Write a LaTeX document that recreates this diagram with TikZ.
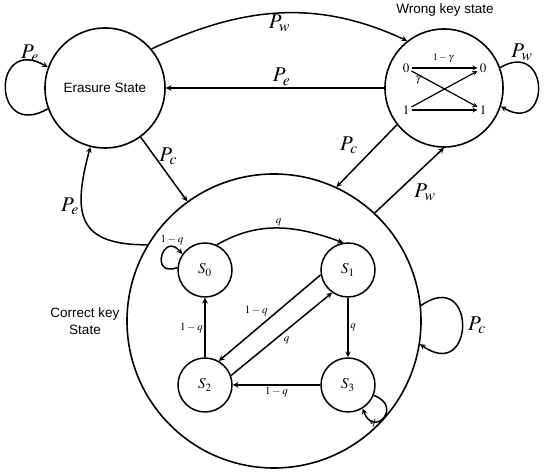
\documentclass[tikz,border=0pt]{standalone}
\usepackage{mathptmx}
\usepackage[no-math]{fontspec}
\setsansfont{Liberation Sans}
\usetikzlibrary{arrows}

\begin{document}
\begin{tikzpicture}[x=1pt, y=1pt, >=stealth, line width=1.5pt,
    bigstate/.style={circle, draw, line width=1.6pt, inner sep=0pt},
    substate/.style={circle, draw, line width=1.5pt, minimum size=54pt, inner sep=0pt, font=\fontsize{15}{18}\selectfont},
    bit/.style={inner sep=1.5pt, font=\fontsize{13}{15}\selectfont},
    plbl/.style={font=\fontsize{21}{24}\selectfont, inner sep=1pt},
    qlbl/.style={font=\fontsize{11}{13}\selectfont, inner sep=1.5pt},
    txt/.style={font=\sffamily\fontsize{13.5}{17}\selectfont, align=center}]
    \useasboundingbox (0,0) rectangle (544,473);

    % --- three main states ---
    \node[bigstate, minimum size=120pt, txt] (er) at (105,385) {Erasure State};
    \node[bigstate, minimum size=118pt] (wk) at (444,385) {};
    \node[bigstate, minimum size=294pt] (ck) at (274,152) {};
    \node[txt] (wktxt) at (445,463) {Wrong key state};
    \node[txt] (cktxt) at (85,152) {Correct key\\State};

    % --- transitions between main states ---
    \draw[->] (er.40) to[out=25, in=155] node[plbl, below] (pw1) {$P_w$} (wk.128);
    \draw[->] (wk) -- node[plbl, above=1pt, pos=0.47] (pe1) {$P_e$} (er);
    \draw[->] (er) -- node[plbl, right=3pt, pos=0.3] (pc1) {$P_c$} (ck);
    \draw[->] (ck.149) .. controls +(180:70) and +(255:70) .. (er.256);
    \node[plbl] (pe2) at (70,267) {$P_e$};
    \draw[->] (wk.218) -- (ck.65);
    \node[plbl] (pc2) at (349,328) {$P_c$};
    \draw[->] (ck.47) -- (wk.270);
    \node[plbl] (pw2) at (425,281) {$P_w$};

    % --- self loops of the main states ---
    \draw[->] (er.200) .. controls +(210:65) and +(150:65) .. (er.160);
    \node[plbl] (pe3) at (30,420) {$P_e$};
    \draw[->] (wk.20) .. controls +(30:58) and +(-30:58) .. (wk.-18);
    \node[plbl] (pw3) at (522,421) {$P_w$};
    \draw[->] (ck.6) .. controls +(35:68) and +(-35:68) .. (ck.-9);
    \node[plbl] (pc3) at (477,148) {$P_c$};

    % --- wrong key channel ---
    \node[bit] (z0) at (406,405) {$0$};
    \node[bit] (z1) at (483,405) {$0$};
    \node[bit] (o0) at (406,363) {$1$};
    \node[bit] (o1) at (483,363) {$1$};
    \draw[->, line width=1.2pt] (z0) -- (z1);
    \draw[->, line width=1.2pt] (z0) -- (o1);
    \draw[->, line width=1.2pt] (o0) -- (z1);
    \draw[->, line width=1.2pt] (o0) -- (o1);
    \node[qlbl, font=\fontsize{10}{12}\selectfont] (g1) at (443,415) {$1-\gamma$};
    \node[qlbl] (g2) at (418,393) {$\gamma$};

    % --- correct key sub-states ---
    \node[substate] (s0) at (205,203) {$S_0$};
    \node[substate] (s1) at (348,203) {$S_1$};
    \node[substate] (s2) at (205,88) {$S_2$};
    \node[substate] (s3) at (348,88) {$S_3$};

    \draw[->] (s0.65) to[out=30, in=160] node[qlbl, above] (q1) {$q$} (s1.100);
    \draw[->] (s0.175) .. controls +(200:30) and +(130:30) .. (s0.145);
    \node[qlbl] (q2) at (172,233) {$1-q$};
    \draw[->] (s2) -- node[qlbl, left] (q3) {$1-q$} (s0);
    \draw[->] (s1.190) -- node[qlbl, above left] (q4) {$1-q$} (s2.60);
    \draw[->] (s2.20) -- node[qlbl, below right] (q5) {$q$} (s1.235);
    \draw[->] (s1) -- node[qlbl, right] (q6) {$q$} (s3);
    \draw[->] (s3) -- node[qlbl, below] (q7) {$1-q$} (s2);
    \draw[->] (s3.-22) .. controls +(-20:32) and +(-70:32) .. (s3.-58);
    \node[qlbl] (q8) at (373,50) {$q$};
\end{tikzpicture}
\end{document}
